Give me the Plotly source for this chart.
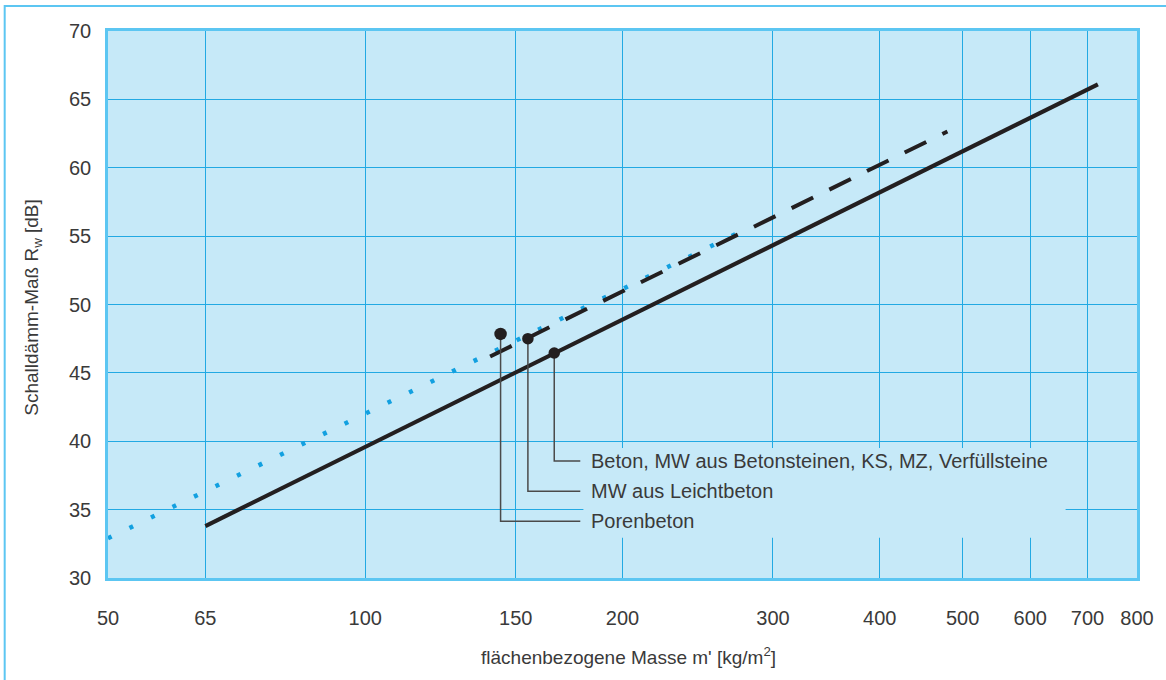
import math
import plotly.graph_objects as go

# ---- data ----
x_tick_vals = [50, 65, 100, 150, 200, 300, 400, 500, 600, 700, 800]
x_tick_text = ["50", "65", "100", "150", "200", "300", "400", "500", "600", "700", "800"]
y_tick_vals = [30, 35, 40, 45, 50, 55, 60, 65, 70]

# solid line: Beton, MW aus Betonsteinen, KS, MZ, Verfüllsteine
mass_solid = [65, 720]
rw_solid = [33.8, 66.1]
# dashed line: MW aus Leichtbeton
mass_dashed = [140, 480]
rw_dashed = [46.2, 62.65]
# dotted blue line: Porenbeton
mass_dotted = [50, 283]
rw_dotted = [32.9, 55.7]

# marked points and their callouts
point_labels = ["Porenbeton", "MW aus Leichtbeton",
                "Beton, MW aus Betonsteinen, KS, MZ, Verfüllsteine"]
point_mass = [144, 155, 166.4]
point_rw = [47.85, 47.5, 46.45]
callout_rw = [34.15, 36.35, 38.55]
callout_end_mass = 178.5
label_mass = 182.5

# area behind the labels (covers the grid)
label_box_mass = [180, 660]
label_box_rw = [32.95, 39.5]

BG = "#c6e9f8"
GRID = "#22a9e3"
BORDER = "#5cc6f2"
INK = "#231f20"
TXT = "#3a3a3a"
FONT = "Liberation Sans"

fig = go.Figure()

# label background box (covers gridlines)
bx0, bx1 = label_box_mass
by0, by1 = label_box_rw
fig.add_trace(go.Scatter(
    x=[bx0, bx1, bx1, bx0, bx0], y=[by0, by0, by1, by1, by0],
    mode="lines", fill="toself", fillcolor=BG, line=dict(width=0, color=BG),
    hoverinfo="skip", showlegend=False))

fig.add_trace(go.Scatter(
    x=mass_dotted, y=rw_dotted, mode="lines",
    line=dict(color="#12a0e0", width=4.5, dash="4px,19.9px"),
    showlegend=False, name="Porenbeton"))

fig.add_trace(go.Scatter(
    x=mass_dashed, y=rw_dashed, mode="lines",
    line=dict(color=INK, width=4, dash="24px,18px"),
    showlegend=False, name="MW aus Leichtbeton"))

fig.add_trace(go.Scatter(
    x=mass_solid, y=rw_solid, mode="lines",
    line=dict(color=INK, width=4.2),
    showlegend=False, name="Beton"))

# callout lines
for m, r, cy in zip(point_mass, point_rw, callout_rw):
    fig.add_trace(go.Scatter(
        x=[m, m, callout_end_mass], y=[r, cy, cy], mode="lines",
        line=dict(color="#4a4a4a", width=1.5),
        hoverinfo="skip", showlegend=False))

fig.add_trace(go.Scatter(
    x=point_mass, y=point_rw, mode="markers",
    marker=dict(color=INK, size=[12.5, 11.5, 11.5], opacity=1,
                line=dict(width=0)),
    showlegend=False))

for lab, cy in zip(point_labels, callout_rw):
    fig.add_annotation(
        x=math.log10(label_mass), y=cy, xref="x", yref="y",
        text=lab, showarrow=False, xanchor="left", yanchor="middle",
        font=dict(family=FONT, size=20, color=TXT))

# axis titles
fig.add_annotation(
    x=0.5058, y=-0.1426, xref="paper", yref="paper",
    text="flächenbezogene Masse m' [kg/m<sup>2</sup>]", showarrow=False,
    xanchor="center", yanchor="middle",
    font=dict(family=FONT, size=19, color=TXT))
fig.add_annotation(
    x=-0.0724, y=0.495, xref="paper", yref="paper",
    text="Schalldämm-Maß R<sub>w</sub> [dB]", showarrow=False, textangle=-90,
    xanchor="center", yanchor="middle",
    font=dict(family=FONT, size=19, color=TXT))

# outer frame
fig.add_shape(type="rect", xref="paper", yref="paper",
              x0=-0.1004, x1=1.2, y0=-0.4, y1=1.0457,
              line=dict(color=BORDER, width=2), fillcolor="rgba(0,0,0,0)",
              layer="below")

fig.update_layout(
    width=1166, height=680,
    margin=dict(l=108, r=22, t=31, b=102),
    plot_bgcolor=BG, paper_bgcolor="white",
    showlegend=False,
    xaxis=dict(type="log", range=[math.log10(50), math.log10(800)],
               tickvals=x_tick_vals, ticktext=x_tick_text,
               showgrid=True, gridcolor=GRID, gridwidth=1.3,
               showline=True, mirror=True, linecolor=BORDER, linewidth=2.5,
               zeroline=False, ticks="", ticklabelstandoff=20,
               tickfont=dict(family=FONT, size=20, color=TXT)),
    yaxis=dict(range=[30, 70], tickvals=y_tick_vals,
               showgrid=True, gridcolor=GRID, gridwidth=1.3,
               showline=True, mirror=True, linecolor=BORDER, linewidth=2.5,
               zeroline=False, ticks="", ticklabelstandoff=10,
               tickfont=dict(family=FONT, size=20, color=TXT)),
)

fig.write_html("out.html", config={"displayModeBar": False},
               post_script="document.body.style.margin='0';document.body.style.overflow='hidden';")
